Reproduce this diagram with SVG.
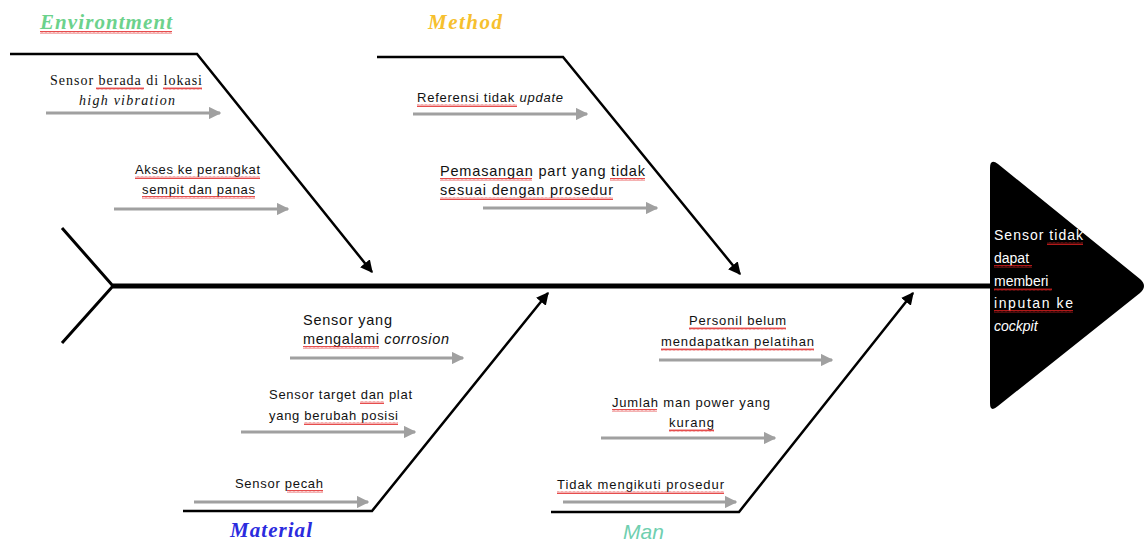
<svg xmlns="http://www.w3.org/2000/svg" width="1147" height="542" viewBox="0 0 1147 542">
<style>
.bone{fill:none;stroke:#000;stroke-width:2.5}
.sub{fill:none;stroke:#a0a0a0;stroke-width:3}
.t{font-family:"Liberation Sans",Arial,sans-serif;font-size:13px;fill:#111}
.ts{font-family:"Liberation Serif","Times New Roman",serif;font-size:14px;fill:#111}
.tl{font-family:"Liberation Sans",Arial,sans-serif;font-size:14.5px;fill:#111}
.cat{font-family:"Liberation Serif","Times New Roman",serif;font-size:21px;font-weight:bold;font-style:italic}
.w{fill:url(#wave)}
.hd{font-family:"Liberation Sans",Arial,sans-serif;font-size:14px;fill:#fff}
</style>
<defs>
<marker id="ab" viewBox="0 0 10 10" refX="9" refY="5" markerWidth="5" markerHeight="5" orient="auto" markerUnits="strokeWidth"><path d="M0,0 L10,5 L0,10 Z" fill="#000"/></marker>
<marker id="ag" viewBox="0 0 10 10" refX="9" refY="5" markerWidth="4.2" markerHeight="4.2" orient="auto" markerUnits="strokeWidth"><path d="M0,0 L10,5 L0,10 Z" fill="#a0a0a0"/></marker>
<pattern id="wave" width="4" height="3" patternUnits="userSpaceOnUse"><path d="M0,2.5 L1,0.5 L2,2.5 L3,0.5 L4,2.5" stroke="#e02020" stroke-width="0.8" fill="none"/></pattern>
</defs>

<g id="connectors">
<path class="bone" d="M113,286 L990,286" style="stroke-width:5"/>
<path class="bone" d="M62,228 L113,286 L62,343" style="stroke-width:3"/>
<path class="bone" d="M10,54 L197,54 L372,272" marker-end="url(#ab)"/>
<path class="bone" d="M377,57 L563,57 L740,274" marker-end="url(#ab)"/>
<path class="bone" d="M183,511 L372,511 L548,293" marker-end="url(#ab)"/>
<path class="bone" d="M551,512 L739,512 L913,293" marker-end="url(#ab)"/>
<path class="sub" d="M46,113 L220,113" marker-end="url(#ag)"/>
<path class="sub" d="M114,209 L288,209" marker-end="url(#ag)"/>
<path class="sub" d="M413,114 L587,114" marker-end="url(#ag)"/>
<path class="sub" d="M483,208 L657,208" marker-end="url(#ag)"/>
<path class="sub" d="M290,358 L463,358" marker-end="url(#ag)"/>
<path class="sub" d="M241,432 L415,432" marker-end="url(#ag)"/>
<path class="sub" d="M194,502 L368,502" marker-end="url(#ag)"/>
<path class="sub" d="M659,360 L832,360" marker-end="url(#ag)"/>
<path class="sub" d="M601,438 L775,438" marker-end="url(#ag)"/>
<path class="sub" d="M563,502 L736,502" marker-end="url(#ag)"/>
</g>

<g id="head">
<path d="M990,168 Q990,158 998,164 L1140,279 Q1148,286 1140,293 L998,406 Q990,413 990,403 Z" fill="#000"/>
<text class="hd" x="994" y="240" textLength="89" lengthAdjust="spacing">Sensor tidak</text>
<text class="hd" x="994" y="263">dapat</text>
<text class="hd" x="994" y="286">memberi</text>
<text class="hd" x="994" y="308" textLength="79" lengthAdjust="spacing">inputan ke</text>
<text class="hd" x="994" y="331" font-style="italic">cockpit</text>
<rect class="w" x="1047" y="242" width="36" height="3"/>
<rect class="w" x="994" y="265" width="38" height="3"/>
<rect class="w" x="994" y="288" width="58" height="3"/>
<rect class="w" x="994" y="310" width="79" height="3"/>
</g>

<g id="environment">
<text class="cat" x="40" y="29" fill="#6cd28c" textLength="132" lengthAdjust="spacing">Environtment</text>
<rect class="w" x="40" y="31" width="132" height="3"/>
<text class="ts" x="50" y="85" textLength="152" lengthAdjust="spacing">Sensor berada di lokasi</text>
<text class="ts" x="79" y="105" font-style="italic" textLength="96" lengthAdjust="spacing">high vibration</text>
<rect class="w" x="96" y="87" width="48" height="3"/>
<rect class="w" x="163" y="87" width="39" height="3"/>
<text class="t" x="135" y="174" textLength="125" lengthAdjust="spacing">Akses ke perangkat</text>
<text class="t" x="142" y="194" textLength="113" lengthAdjust="spacing">sempit dan panas</text>
<rect class="w" x="135" y="176" width="125" height="3"/>
<rect class="w" x="142" y="196" width="113" height="3"/>
</g>

<g id="method">
<text class="cat" x="428" y="29" fill="#f6c02e" textLength="74" lengthAdjust="spacing">Method</text>
<text class="t" x="417" y="102" textLength="146" lengthAdjust="spacing"><tspan>Referensi tidak </tspan><tspan font-style="italic">update</tspan></text>
<rect class="w" x="417" y="104" width="100" height="3"/>
<text class="tl" x="440" y="176" textLength="205" lengthAdjust="spacing">Pemasangan part yang tidak</text>
<text class="tl" x="440" y="195" textLength="173" lengthAdjust="spacing">sesuai dengan prosedur</text>
<rect class="w" x="440" y="178" width="92" height="3"/>
<rect class="w" x="610" y="178" width="35" height="3"/>
<rect class="w" x="440" y="197" width="173" height="3"/>
</g>

<g id="material">
<text class="cat" x="230" y="537" fill="#2b2bde" textLength="82" lengthAdjust="spacing">Material</text>
<text class="tl" x="303" y="325" textLength="89" lengthAdjust="spacing">Sensor yang</text>
<text class="tl" x="303" y="344" textLength="146" lengthAdjust="spacing"><tspan>mengalami </tspan><tspan font-style="italic">corrosion</tspan></text>
<rect class="w" x="303" y="346" width="76" height="3"/>
<text class="t" x="269" y="399" textLength="143" lengthAdjust="spacing">Sensor target dan plat</text>
<text class="t" x="269" y="420" textLength="129" lengthAdjust="spacing">yang berubah posisi</text>
<rect class="w" x="360" y="401" width="24" height="3"/>
<rect class="w" x="304" y="422" width="94" height="3"/>
<text class="t" x="235" y="488" textLength="88" lengthAdjust="spacing">Sensor pecah</text>
<rect class="w" x="287" y="490" width="36" height="3"/>
</g>

<g id="man">
<text x="623" y="539" fill="#6fcfb0" font-family="Liberation Sans,Arial,sans-serif" font-size="21" font-style="italic">Man</text>
<text class="t" x="689" y="325" textLength="97" lengthAdjust="spacing">Personil belum</text>
<text class="t" x="661" y="346" textLength="153" lengthAdjust="spacing">mendapatkan pelatihan</text>
<rect class="w" x="689" y="327" width="97" height="3"/>
<rect class="w" x="661" y="348" width="153" height="3"/>
<text class="t" x="612" y="407" textLength="158" lengthAdjust="spacing">Jumlah man power yang</text>
<text class="t" x="669" y="427" textLength="45" lengthAdjust="spacing">kurang</text>
<rect class="w" x="612" y="409" width="45" height="3"/>
<rect class="w" x="669" y="429" width="45" height="3"/>
<text class="t" x="557" y="489" textLength="167" lengthAdjust="spacing">Tidak mengikuti prosedur</text>
<rect class="w" x="557" y="491" width="167" height="3"/>
</g>
</svg>
